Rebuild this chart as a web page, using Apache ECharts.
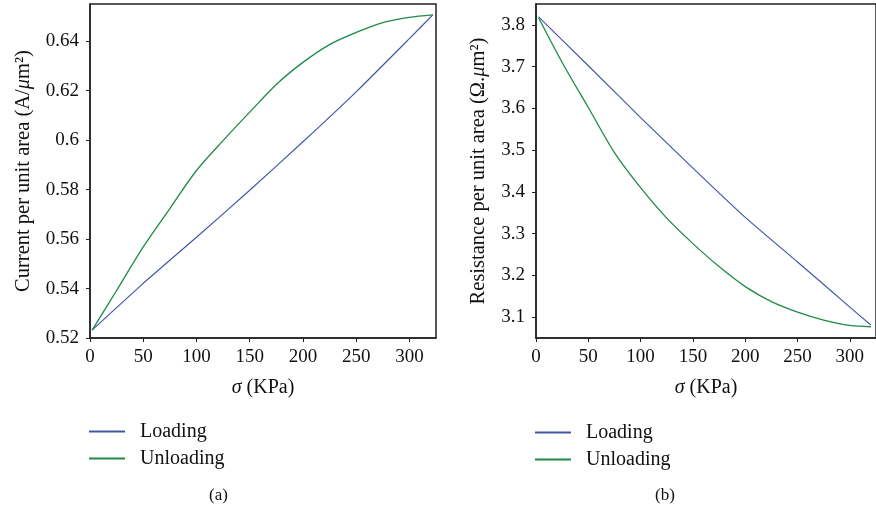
<!DOCTYPE html>
<html>
<head>
    <meta charset="utf-8">
    <script src="https://cdn.jsdelivr.net/npm/echarts@6/dist/echarts.min.js"></script>
    <style>
        html, body { margin: 0; padding: 0; background: #ffffff; }
        #chart { width: 876px; height: 511px; }
    </style>
</head>
<body>
    <div id="chart"></div>
    <script>
        // (a) current per unit area
        var loadXA = [2, 50, 100, 150, 200, 250, 300, 322];
        var loadCurrent = [0.5232, 0.5421, 0.5607, 0.5797, 0.5993, 0.6195, 0.6410, 0.6506];
        var unloadXA = [2, 25, 50, 75, 100, 125, 150, 175, 200, 225, 250, 275, 300, 322];
        var unloadCurrent = [0.5232, 0.5392, 0.5568, 0.5723, 0.5877, 0.5998, 0.6113, 0.6225, 0.6314, 0.6386, 0.6435, 0.6475, 0.6496, 0.6506];

        // (b) resistance per unit area
        var loadXB = [2.5, 50, 100, 150, 200, 250, 300, 320];
        var loadResist = [3.819, 3.702, 3.578, 3.457, 3.339, 3.232, 3.124, 3.081];
        var unloadXB = [2.5, 25, 50, 75, 100, 125, 150, 175, 200, 225, 250, 275, 300, 320];
        var unloadResist = [3.817, 3.710, 3.602, 3.494, 3.410, 3.337, 3.276, 3.221, 3.173, 3.137, 3.112, 3.093, 3.080, 3.077];

        var xTicks = [0, 50, 100, 150, 200, 250, 300];
        var yTicksA = [0.52, 0.54, 0.56, 0.58, 0.6, 0.62, 0.64];
        var yTicksB = [3.1, 3.2, 3.3, 3.4, 3.5, 3.6, 3.7, 3.8];

        var blue = '#4357a8', green = '#1e8a48';
        var font = '"Liberation Serif", "DejaVu Serif", serif';

        function pairs(xs, ys) {
            return xs.map(function (x, i) { return [x, ys[i]]; });
        }

        function xAxisOf(idx) {
            return {
                type: 'value', gridIndex: idx, min: 0, max: 325,
                name: '{i|σ}{a| (KPa)}', nameLocation: 'middle', nameGap: 40,
                nameTextStyle: { rich: { i: { fontFamily: font, fontSize: 20, fontStyle: 'italic', color: '#111' }, a: { fontFamily: font, fontSize: 20, color: '#111' } } },
                axisLine: { show: true, lineStyle: { color: '#222', width: 1.5 } },
                axisTick: { show: true, length: 4, inside: false, customValues: xTicks, lineStyle: { color: '#222' } },
                axisLabel: { customValues: xTicks, fontFamily: font, fontSize: 19, color: '#111', margin: 10 },
                splitLine: { show: false }
            };
        }

        function yAxisOf(idx, min, max, ticks, title, gap) {
            return {
                type: 'value', gridIndex: idx, min: min, max: max,
                name: title, nameLocation: 'middle', nameGap: gap, nameRotate: 90,
                nameTextStyle: { rich: { a: { fontFamily: font, fontSize: 20.5, color: '#111' }, i: { fontFamily: font, fontSize: 20.5, fontStyle: 'italic', color: '#111' } } },
                axisLine: { show: true, lineStyle: { color: '#222', width: 1.5 } },
                axisTick: { show: true, length: 4, inside: false, customValues: ticks, lineStyle: { color: '#222' } },
                axisLabel: { customValues: ticks, fontFamily: font, fontSize: 19, color: '#111', margin: 11 },
                splitLine: { show: false }
            };
        }

        var chart = echarts.init(document.getElementById('chart'), null, { renderer: 'canvas' });

        var option = {
            animation: false,
            backgroundColor: '#ffffff',
            title: [
                { text: '(a)', left: 204, top: 482, textStyle: { fontFamily: font, fontSize: 17, fontWeight: 'normal', color: '#111' } },
                { text: '(b)', left: 650, top: 482, textStyle: { fontFamily: font, fontSize: 17, fontWeight: 'normal', color: '#111' } }
            ],
            grid: [
                { left: 90, top: 4, width: 346, height: 334, show: true, borderColor: '#222', borderWidth: 1.5, backgroundColor: '#fff' },
                { left: 536, top: 4, width: 346, height: 334, show: true, borderColor: '#222', borderWidth: 1.5, backgroundColor: '#fff' }
            ],
            legend: [
                {
                    data: [{ name: 'Loading' }, { name: 'Unloading' }],
                    orient: 'vertical', left: 84, top: 416, itemWidth: 36, itemHeight: 2, itemGap: 6,
                    icon: 'rect',
                    textStyle: { fontFamily: font, fontSize: 20, color: '#111', padding: [0, 0, 0, 10], lineHeight: 21 }
                },
                {
                    data: [{ name: 'Loading ' }, { name: 'Unloading ' }],
                    orient: 'vertical', left: 530, top: 417, itemWidth: 36, itemHeight: 2, itemGap: 6,
                    icon: 'rect',
                    textStyle: { fontFamily: font, fontSize: 20, color: '#111', padding: [0, 0, 0, 10], lineHeight: 21 }
                }
            ],
            xAxis: [xAxisOf(0), xAxisOf(1)],
            yAxis: [
                yAxisOf(0, 0.52, 0.655, yTicksA, '{a|Current per unit area (A/}{i|μ}{a|m²)}', 56),
                yAxisOf(1, 3.05, 3.85, yTicksB, '{a|Resistance per unit area (Ω.}{i|μ}{a|m²)}', 47)
            ],
            series: [
                { name: 'Loading', type: 'line', xAxisIndex: 0, yAxisIndex: 0, data: pairs(loadXA, loadCurrent), showSymbol: false, smooth: 0.15, color: blue, lineStyle: { width: 1.2 } },
                { name: 'Unloading', type: 'line', xAxisIndex: 0, yAxisIndex: 0, data: pairs(unloadXA, unloadCurrent), showSymbol: false, smooth: 0.3, color: green, lineStyle: { width: 1.3 } },
                { name: 'Loading ', type: 'line', xAxisIndex: 1, yAxisIndex: 1, data: pairs(loadXB, loadResist), showSymbol: false, smooth: 0.15, color: blue, lineStyle: { width: 1.2 } },
                { name: 'Unloading ', type: 'line', xAxisIndex: 1, yAxisIndex: 1, data: pairs(unloadXB, unloadResist), showSymbol: false, smooth: 0.3, color: green, lineStyle: { width: 1.3 } }
            ]
        };

        chart.setOption(option);
    </script>
</body>
</html>
